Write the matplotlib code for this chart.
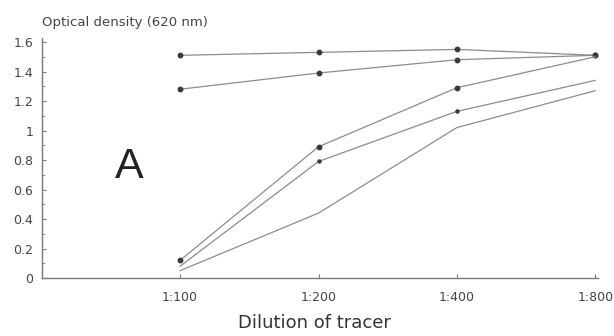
import matplotlib
matplotlib.use("Agg")
import matplotlib.pyplot as plt
import numpy as np

# dilution categories
dilutions = ["1:100", "1:200", "1:400", "1:800"]

# optical density at 620 nm, one list per curve
od_a = [1.51, 1.53, 1.55, 1.51]
od_b = [1.28, 1.39, 1.48, 1.51]
od_c = [0.12, 0.89, 1.29, 1.50]
od_d = [0.08, 0.79, 1.13, 1.34]
od_e = [0.05, 0.44, 1.02, 1.27]

yticks = [0, 0.2, 0.4, 0.6, 0.8, 1.0, 1.2, 1.4, 1.6]
ytick_labels = ["0", "0.2", "0.4", "0.6", "0.8", "1", "1.2", "1.4", "1.6"]

plt.rcParams['font.family'] = ['DejaVu Sans']

fig = plt.figure(figsize=(6.14, 3.36), dpi=100)
ax = fig.add_axes([0.068, 0.1726, 0.906, 0.7155])

x = np.arange(1, len(dilutions) + 1)
line_col = '#8c8c8c'
mark_col = '#3a3a3a'

ax.plot(x, od_a, color=line_col, lw=0.9, marker='o', ms=3.2, mfc=mark_col, mec=mark_col)
ax.plot(x, od_b, color=line_col, lw=0.9, marker='o', ms=3.2, mfc=mark_col, mec=mark_col)
ax.plot(x, od_c, color=line_col, lw=0.9, marker='o', ms=3.2, mfc=mark_col, mec=mark_col,
        markevery=[0, 1, 2])
ax.plot(x, od_d, color=line_col, lw=0.9, marker='o', ms=2.2, mfc=mark_col, mec=mark_col,
        markevery=[1, 2])
ax.plot(x, od_e, color=line_col, lw=0.9)

ax.set_xlim(0, 4.02)
ax.set_ylim(0, 1.63)
ax.set_xticks(x)
ax.set_xticklabels(dilutions)
ax.set_yticks(yticks)
ax.set_yticklabels(ytick_labels)
ax.set_yticks(np.arange(0.1, 1.6, 0.2), minor=True)

for s in ['top', 'right']:
    ax.spines[s].set_visible(False)
for s in ['left', 'bottom']:
    ax.spines[s].set_color('#7a7a7a')
    ax.spines[s].set_linewidth(1.0)

ax.tick_params(axis='both', which='both', direction='in', colors='#7a7a7a',
               labelcolor='#444444', labelsize=9)
ax.tick_params(axis='both', which='major', length=3)
ax.tick_params(axis='y', which='minor', length=2)
ax.tick_params(axis='x', pad=9)
ax.tick_params(axis='y', pad=6)

ax.set_xlabel("Dilution of tracer", fontsize=13, color='#333333')
ax.xaxis.set_label_coords(0.49, -0.15)
fig.text(0.068, 0.932, "Optical density (620 nm)", fontsize=9.5, color='#444444',
         ha='left', va='center')
ax.text(0.63, 0.75, "A", fontsize=31, family='Liberation Sans', color='#222222',
        ha='center', va='center')

fig.savefig("out.png", dpi=100, facecolor='white')
